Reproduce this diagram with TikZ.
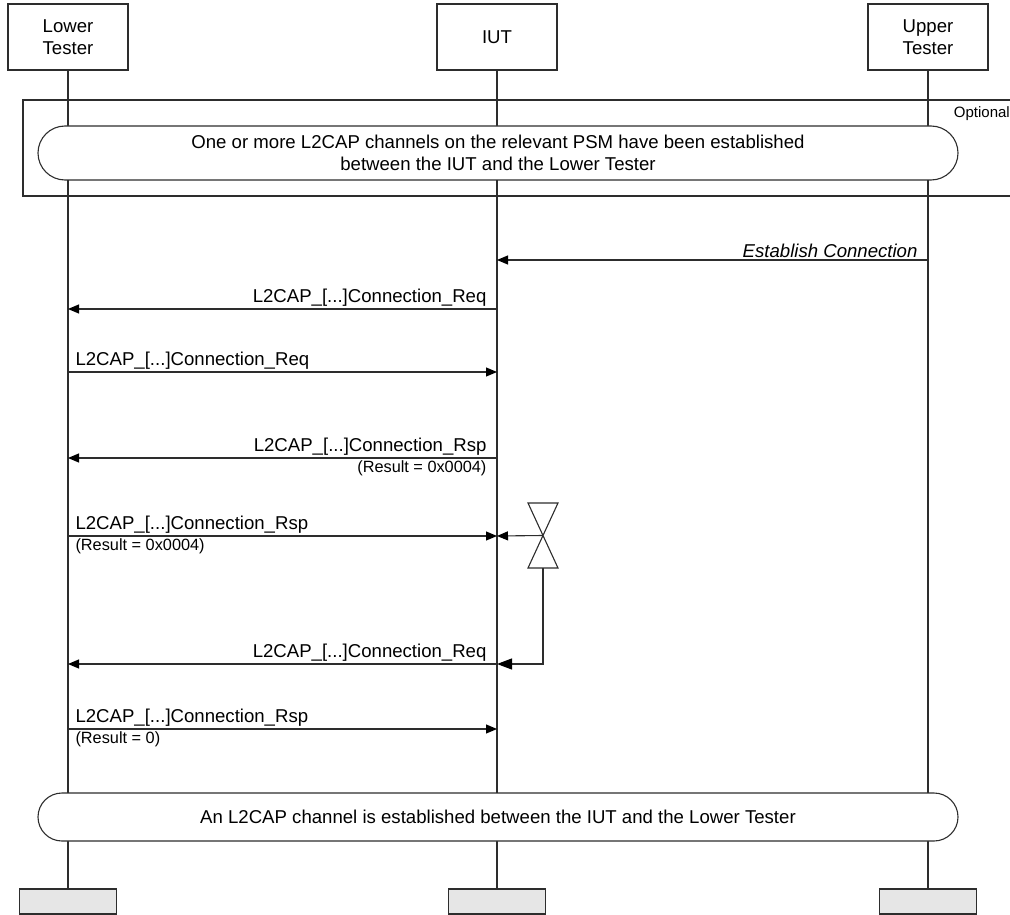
\documentclass[tikz,border=0pt]{standalone}
\usepackage{fontspec}
\setmainfont{Liberation Sans}
\usetikzlibrary{arrows.meta,shapes.misc}
\definecolor{ln}{RGB}{45,45,45}
\definecolor{endgray}{RGB}{230,230,230}
\tikzset{
  every node/.style={font=\fontsize{18.6}{22}\selectfont},
  hdr/.style={draw=ln, line width=1.1pt, fill=white, minimum width=120pt, minimum height=66pt, align=center, inner sep=0pt},
  endbox/.style={draw=ln, line width=1.1pt, fill=endgray, minimum width=97pt, minimum height=25pt, inner sep=0pt},
  life/.style={draw=ln, line width=1.1pt},
  msg/.style={draw=ln, line width=1.1pt, -{Triangle[length=11pt,width=9pt,color=black]}},
  tmsg/.style={draw=ln, line width=1.1pt, -{Triangle[length=15pt,width=11pt,color=black]}},
  cond/.style={draw=ln, line width=1.1pt, fill=white, rounded rectangle, minimum width=920pt, align=center, inner sep=0pt},
  lblr/.style={anchor=south east, inner sep=2pt, xshift=-8pt},
  lbll/.style={anchor=south west, inner sep=2pt, xshift=5pt},
  smallr/.style={anchor=north east, inner sep=2pt, xshift=-8pt, font=\fontsize{16.3}{19}\selectfont},
  smalll/.style={anchor=north west, inner sep=2pt, xshift=5pt, font=\fontsize{16.3}{19}\selectfont},
}
\begin{document}
\begin{tikzpicture}[x=1pt,y=-1pt]
\useasboundingbox (0,0) rectangle (1010,915);
% header and end boxes
\node[hdr] (lt) at (68,37) {Lower\\Tester};
\node[hdr] (iut) at (497,37) {IUT};
\node[hdr] (ut) at (928,37) {Upper\\Tester};
\node[endbox] (lte) at (68,901.5) {};
\node[endbox] (iute) at (497,901.5) {};
\node[endbox] (ute) at (928,901.5) {};
% lifelines
\draw[life] (lt.south) -- (lte.north);
\draw[life] (iut.south) -- (iute.north);
\draw[life] (ut.south) -- (ute.north);
% optional frame
\coordinate (ofa) at (1010,100);
\coordinate (ofb) at (23,100);
\coordinate (ofc) at (23,196);
\coordinate (ofd) at (1010,196);
\draw[life] (ofa) -- (ofb) -- (ofc) -- (ofd);
\node[anchor=north east, inner sep=0pt, font=\fontsize{15}{18}\selectfont] (opt) at (1010,106) {Optional};
% conditions
\node[cond, minimum height=54pt] (c1) at (498,153) {One or more L2CAP channels on the relevant PSM have been established\\between the IUT and the Lower Tester};
\node[cond, minimum height=48pt] (c2) at (498,817) {An L2CAP channel is established between the IUT and the Lower Tester};
% message coordinates
\coordinate (u1) at (928,260); \coordinate (i1) at (497,260);
\coordinate (i2) at (497,309); \coordinate (l2) at (68,309);
\coordinate (l3) at (68,372); \coordinate (i3) at (497,372);
\coordinate (i4) at (497,458); \coordinate (l4) at (68,458);
\coordinate (l5) at (68,536); \coordinate (i5) at (497,536);
\coordinate (i6) at (497,664); \coordinate (l6) at (68,664);
\coordinate (l7) at (68,729); \coordinate (i7) at (497,729);
% timer
\coordinate (tc) at (543,535.5);
\coordinate (tb) at (543,568);
\coordinate (tk) at (543,664);
\draw[life] (528,503) -- (558,503) -- (528,568) -- (558,568) -- cycle;
% messages
\draw[msg] (u1) -- (i1) node[pos=0, lblr, font=\fontsize{18.6}{22}\selectfont\itshape] {Establish Connection};
\draw[msg] (i2) -- (l2) node[pos=0, lblr] {L2CAP\_[...]Connection\_Req};
\draw[msg] (l3) -- (i3) node[pos=0, lbll] {L2CAP\_[...]Connection\_Req};
\draw[msg] (i4) -- (l4) node[pos=0, lblr] {L2CAP\_[...]Connection\_Rsp} node[pos=0, smallr] {(Result = 0x0004)};
\draw[msg] (l5) -- (i5) node[pos=0, lbll] {L2CAP\_[...]Connection\_Rsp} node[pos=0, smalll] {(Result = 0x0004)};
\draw[msg] (tc) -- (i5);
\draw[tmsg] (tb) -- (tk) -- (i6);
\draw[msg] (i6) -- (l6) node[pos=0, lblr] {L2CAP\_[...]Connection\_Req};
\draw[msg] (l7) -- (i7) node[pos=0, lbll] {L2CAP\_[...]Connection\_Rsp} node[pos=0, smalll] {(Result = 0)};
\end{tikzpicture}
\end{document}
